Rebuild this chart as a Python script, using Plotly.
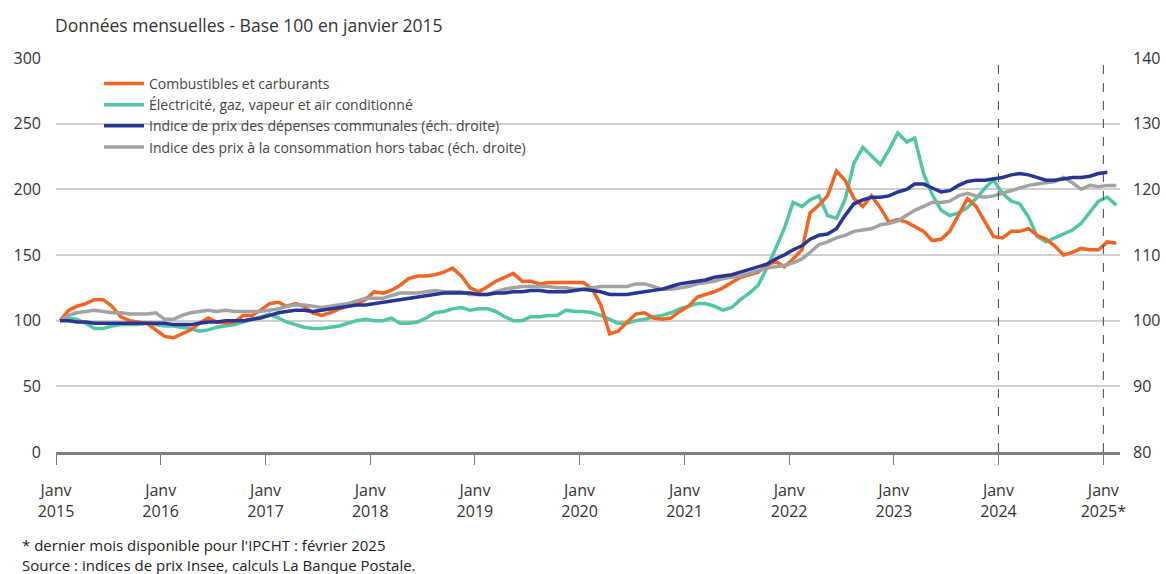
import plotly.graph_objects as go

# ---------------- data (monthly, Jan 2015 = 100) ----------------
combustibles = [
    100, 108, 111, 113, 116, 116, 111, 103, 100, 99, 98, 93,      # 2015
    88, 87, 90, 93, 98, 102, 99, 98, 99, 104, 104, 108,           # 2016
    113, 114, 111, 113, 111, 106, 104, 106, 109, 111, 113, 116,   # 2017
    122, 121, 123, 127, 132, 134, 134, 135, 137, 140, 134, 125,   # 2018
    122, 126, 130, 133, 136, 130, 130, 128, 129, 129, 129, 129,   # 2019
    129, 124, 112, 90, 92, 99, 105, 106, 102, 101, 102, 107,      # 2020
    111, 118, 120, 122, 125, 129, 133, 135, 137, 142, 145, 141,   # 2021
    147, 154, 182, 188, 195, 214, 207, 193, 187, 195, 186, 175,   # 2022
    177, 175, 172, 168, 161, 162, 168, 181, 193, 187, 175, 164,   # 2023
    163, 168, 168, 170, 165, 162, 157, 150, 152, 155, 154, 154,   # 2024
    160, 159,                                                     # 2025
]
electricite = [
    100, 102, 101, 98, 94, 94, 96, 97, 97, 97, 98, 97,
    96, 96, 95, 94, 92, 93, 95, 96, 97, 99, 101, 103,
    105, 102, 99, 97, 95, 94, 94, 95, 96, 98, 100, 101,
    100, 100, 102, 98, 98, 99, 102, 106, 107, 109, 110, 108,
    109, 109, 107, 103, 100, 100, 103, 103, 104, 104, 108, 107,
    107, 106, 104, 101, 98, 98, 100, 101, 103, 104, 106, 109,
    111, 113, 113, 111, 108, 110, 116, 121, 127, 140, 155, 170,
    190, 187, 192, 195, 180, 178, 192, 220, 232, 226, 219, 230,
    243, 236, 239, 212, 196, 184, 180, 182, 186, 193, 201, 207,
    197, 191, 189, 179, 164, 160, 163, 166, 169, 174, 183, 191,
    194, 188,
]
# right-hand scale
depenses_communales = [
    100.0, 100.0, 99.8, 99.8, 99.6, 99.6, 99.6, 99.6, 99.6, 99.6, 99.6, 99.6,
    99.6, 99.4, 99.4, 99.4, 99.6, 99.8, 99.8, 100.0, 100.0, 100.0, 100.2, 100.4,
    100.8, 101.2, 101.4, 101.6, 101.6, 101.4, 101.6, 101.8, 102.0, 102.2, 102.4, 102.4,
    102.6, 102.8, 103.0, 103.2, 103.4, 103.6, 103.8, 104.0, 104.2, 104.2, 104.2, 104.2,
    104.0, 104.0, 104.2, 104.2, 104.4, 104.4, 104.6, 104.6, 104.4, 104.4, 104.4, 104.6,
    104.8, 104.6, 104.4, 104.0, 104.0, 104.0, 104.2, 104.4, 104.6, 104.8, 105.2, 105.6,
    105.8, 106.0, 106.2, 106.6, 106.8, 107.0, 107.4, 107.8, 108.2, 108.6, 109.4, 110.0,
    110.8, 111.4, 112.4, 113.0, 113.2, 114.0, 116.0, 117.8, 118.4, 118.8, 118.8, 119.0,
    119.6, 120.0, 120.8, 120.8, 120.2, 119.6, 119.8, 120.6, 121.2, 121.4, 121.4, 121.6,
    121.8, 122.2, 122.4, 122.2, 121.8, 121.4, 121.4, 121.6, 121.8, 121.8, 122.0, 122.4,
    122.6,
]
ipc_hors_tabac = [
    100.0, 100.8, 101.2, 101.4, 101.6, 101.4, 101.2, 101.2, 101.0, 101.0, 101.0, 101.2,
    100.2, 100.2, 100.8, 101.2, 101.4, 101.6, 101.4, 101.6, 101.4, 101.4, 101.4, 101.4,
    101.6, 101.8, 102.2, 102.4, 102.4, 102.2, 102.0, 102.2, 102.4, 102.6, 103.0, 103.4,
    103.4, 103.4, 103.8, 104.2, 104.2, 104.2, 104.4, 104.6, 104.4, 104.4, 104.4, 104.0,
    104.0, 104.0, 104.4, 104.8, 105.0, 105.2, 105.2, 105.2, 105.2, 105.0, 105.0, 104.8,
    104.8, 105.0, 105.2, 105.2, 105.2, 105.2, 105.6, 105.6, 105.2, 104.8, 104.8, 105.0,
    105.2, 105.6, 105.8, 106.0, 106.4, 106.6, 106.8, 107.2, 107.6, 108.0, 108.2, 108.4,
    108.8, 109.4, 110.4, 111.6, 112.0, 112.6, 113.0, 113.6, 113.8, 114.0, 114.6, 114.8,
    115.2, 116.0, 116.8, 117.4, 118.0, 118.0, 118.2, 119.0, 119.4, 119.0, 118.8, 119.0,
    119.4, 119.8, 120.2, 120.6, 120.8, 121.0, 121.2, 121.8, 121.0, 120.0, 120.6, 120.4,
    120.6, 120.6,
]

series_names = [
    "Combustibles et carburants",
    "Électricité, gaz, vapeur et air conditionné",
    "Indice de prix des dépenses communales (éch. droite)",
    "Indice des prix à la consommation hors tabac (éch. droite)",
]
colors = ["#F26424", "#4FC7A7", "#283593", "#A2A2A2"]

tick_years = list(range(2015, 2026))
tick_labels = [f"Janv<br>{y}" for y in tick_years[:-1]] + ["Janv<br>2025*"]
left_ticks = [0, 50, 100, 150, 200, 250, 300]
right_ticks = [80, 90, 100, 110, 120, 130, 140]


def month_dates(n):
    out = []
    for i in range(n):
        y = 2015 + i // 12
        m = i % 12 + 1
        out.append(f"{y}-{m:02d}-15")
    return out


FONT = "Open Sans"
fig = go.Figure()

specs = [
    (series_names[3], ipc_hors_tabac, colors[3], "y2"),
    (series_names[2], depenses_communales, colors[2], "y2"),
    (series_names[1], electricite, colors[1], "y"),
    (series_names[0], combustibles, colors[0], "y"),
]
for name, vals, col, axis in specs:
    fig.add_trace(go.Scatter(
        x=month_dates(len(vals)), y=vals, name=name, mode="lines",
        line=dict(color=col, width=3.5), yaxis=axis,
    ))

for yr in (2024, 2025):
    fig.add_shape(type="line", xref="x", yref="paper",
                  x0=f"{yr}-01-01", x1=f"{yr}-01-01", y0=0, y1=1,
                  line=dict(color="#444444", width=1, dash="dash"), layer="above")

fig.update_layout(
    width=1166, height=574,
    margin=dict(l=56, r=46, t=58, b=122),
    paper_bgcolor="white", plot_bgcolor="white",
    font=dict(family=FONT, color="#333333", size=14),
    title=dict(text="Données mensuelles - Base 100 en janvier 2015",
               x=55 / 1166, xref="container", xanchor="left",
               y=1 - 26 / 574, yref="container", yanchor="middle",
               font=dict(family=FONT, size=17.5, color="#333333")),
    showlegend=True,
    legend=dict(x=(104 - 56 - 5) / 1064, y=0.975, xanchor="left", yanchor="top",
                traceorder="reversed", bgcolor="rgba(0,0,0,0)",
                font=dict(family=FONT, size=14, color="#444444"),
                itemwidth=40, tracegroupgap=0),
    xaxis=dict(
        type="date", range=["2015-01-01", "2025-02-28"], automargin=False,
        tickvals=[f"{y}-01-01" for y in tick_years], ticktext=tick_labels,
        ticks="outside", ticklen=10, tickcolor="#777777", tickwidth=1,
        ticklabelstandoff=12,
        showline=True, linecolor="#808080", linewidth=3,
        showgrid=False, zeroline=False,
        tickfont=dict(family=FONT, size=16, color="#333333"),
    ),
    yaxis=dict(
        range=[0, 300], tickvals=left_ticks, automargin=False,
        showgrid=True, gridcolor="#CFCFCF", gridwidth=1.5,
        zeroline=False, showline=False, ticks="",
        ticklabelstandoff=14,
        tickfont=dict(family=FONT, size=16, color="#333333"),
    ),
    yaxis2=dict(
        range=[80, 140], tickvals=right_ticks, overlaying="y", side="right",
        automargin=False,
        showgrid=False, zeroline=False, showline=False, ticks="",
        ticklabelstandoff=12,
        tickfont=dict(family=FONT, size=16, color="#333333"),
    ),
)

fig.add_annotation(
    text="* dernier mois disponible pour l'IPCHT : février 2025<br>"
         "Source : indices de prix Insee, calculs La Banque Postale.",
    xref="paper", yref="paper", x=(20 - 56) / 1064, y=(452 - 555) / 394,
    xanchor="left", yanchor="middle", align="left", showarrow=False,
    font=dict(family=FONT, size=15, color="#222222"),
)

fig.write_html(
    "out.html",
    config={"displayModeBar": False},
    post_script="document.body.style.margin='0';document.body.style.overflow='hidden';",
)
